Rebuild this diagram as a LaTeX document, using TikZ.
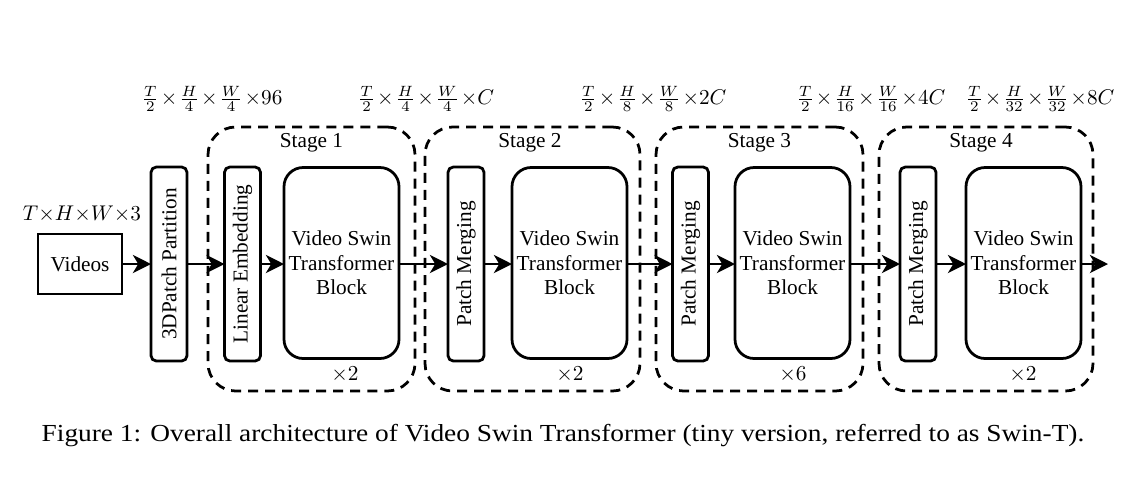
\documentclass[tikz,border=0pt]{standalone}
\usepackage{fontspec}
\setmainfont{Liberation Serif}
\usetikzlibrary{arrows.meta}
\newcommand\pxu{0.47pt}
% tight multiplication sign used in the feature-size labels
\newcommand\tx{\mskip1.5mu{\times}\mskip1.5mu}
\begin{document}
\begin{tikzpicture}[x=0.47pt,y=-0.47pt,
  every node/.style={inner sep=0pt, outer sep=0pt},
  lbl/.style={font=\fontsize{10}{11.5}\selectfont},
  plainbox/.style={draw, line width=1.3pt, font=\fontsize{10}{11.5}\selectfont},
  thinbox/.style={draw, line width=1.3pt, rounded corners=2.5pt,
    minimum width=36*\pxu, minimum height=194*\pxu,
    font=\fontsize{10}{11.5}\selectfont},
  blockbox/.style={draw, line width=1.3pt, rounded corners=9pt,
    minimum width=115*\pxu, minimum height=191*\pxu, align=center,
    font=\fontsize{10}{11.5}\selectfont},
  stagebox/.style={draw, line width=1.3pt, dash pattern=on 4.7pt off 3.3pt,
    rounded corners=13pt, minimum height=264*\pxu},
  flow/.style={line width=1.3pt, -{Stealth[length=8.5pt, width=8.5pt, inset=2.5pt]}}
]
\useasboundingbox (0,0) rectangle (1132,481);

% stage frames
\node[stagebox, minimum width=207*\pxu] (s1) at (311.5,259) {};
\node[stagebox, minimum width=215*\pxu] (s2) at (532.5,259) {};
\node[stagebox, minimum width=207*\pxu] (s3) at (759.5,259) {};
\node[stagebox, minimum width=214*\pxu] (s4) at (986,259) {};
\node[lbl] (s1t) at (311.5,143) {Stage 1};
\node[lbl] (s2t) at (530,143) {Stage 2};
\node[lbl] (s3t) at (759.5,143) {Stage 3};
\node[lbl] (s4t) at (981,143) {Stage 4};

% input
\node[plainbox, minimum width=84*\pxu, minimum height=60*\pxu] (vid) at (80,264) {Videos};
\node[lbl] (inshape) at (82,214) {$T{\times}H{\times}W{\times}3$};

% partition and embedding
\node[thinbox] (part) at (169,264) {\rotatebox{90}{3DPatch Partition}};
\node[thinbox] (lin) at (242.5,264) {\rotatebox{90}{Linear Embedding}};

% transformer blocks and merging layers
\node[blockbox] (b1) at (341.5,263) {Video Swin\\Transformer\\Block};
\node[thinbox] (m2) at (466,264) {\rotatebox{90}{Patch Merging}};
\node[blockbox] (b2) at (569.5,263) {Video Swin\\Transformer\\Block};
\node[thinbox] (m3) at (690.5,264) {\rotatebox{90}{Patch Merging}};
\node[blockbox] (b3) at (792.5,263) {Video Swin\\Transformer\\Block};
\node[thinbox] (m4) at (918,264) {\rotatebox{90}{Patch Merging}};
\node[blockbox] (b4) at (1023.5,263) {Video Swin\\Transformer\\Block};

% repetition counts
\node[lbl] (r1) at (345,375) {$\times 2$};
\node[lbl] (r2) at (570,375) {$\times 2$};
\node[lbl] (r3) at (793,375) {$\times 6$};
\node[lbl] (r4) at (1023,375) {$\times 2$};

% feature sizes
\node[lbl] (d1) at (212,99) {$\frac{T}{2}\tx\frac{H}{4}\tx\frac{W}{4}\mskip1.5mu{\times}96$};
\node[lbl] (d2) at (426,99) {$\frac{T}{2}\tx\frac{H}{4}\tx\frac{W}{4}\mskip1.5mu{\times}C$};
\node[lbl] (d3) at (653,99) {$\frac{T}{2}\tx\frac{H}{8}\tx\frac{W}{8}\mskip1.5mu{\times}2C$};
\node[lbl] (d4) at (871,99) {$\frac{T}{2}\tx\frac{H}{16}\tx\frac{W}{16}\mskip1.5mu{\times}4C$};
\node[lbl] (d5) at (1040,99) {$\frac{T}{2}\tx\frac{H}{32}\tx\frac{W}{32}\mskip1.5mu{\times}8C$};

% data flow
\coordinate (out) at (1108,264);
\draw[flow] (vid.east) -- (vid.east -| part.west);
\draw[flow] (part.east) -- (lin.west);
\draw[flow] (lin.east) -- (lin.east -| b1.west);
\draw[flow] (b1.east |- lin.east) -- (m2.west);
\draw[flow] (m2.east) -- (m2.east -| b2.west);
\draw[flow] (b2.east |- m2.east) -- (m3.west);
\draw[flow] (m3.east) -- (m3.east -| b3.west);
\draw[flow] (b3.east |- m3.east) -- (m4.west);
\draw[flow] (m4.east) -- (m4.east -| b4.west);
\draw[flow] (b4.east |- m4.east) -- (out);

% caption
\node[font=\fontsize{11.5}{13}\selectfont] (cap) at (563,436)
  {\scalebox{1.118}[1]{Figure 1: Overall architecture of Video Swin Transformer (tiny version, referred to as Swin-T).}};
\end{tikzpicture}
\end{document}
